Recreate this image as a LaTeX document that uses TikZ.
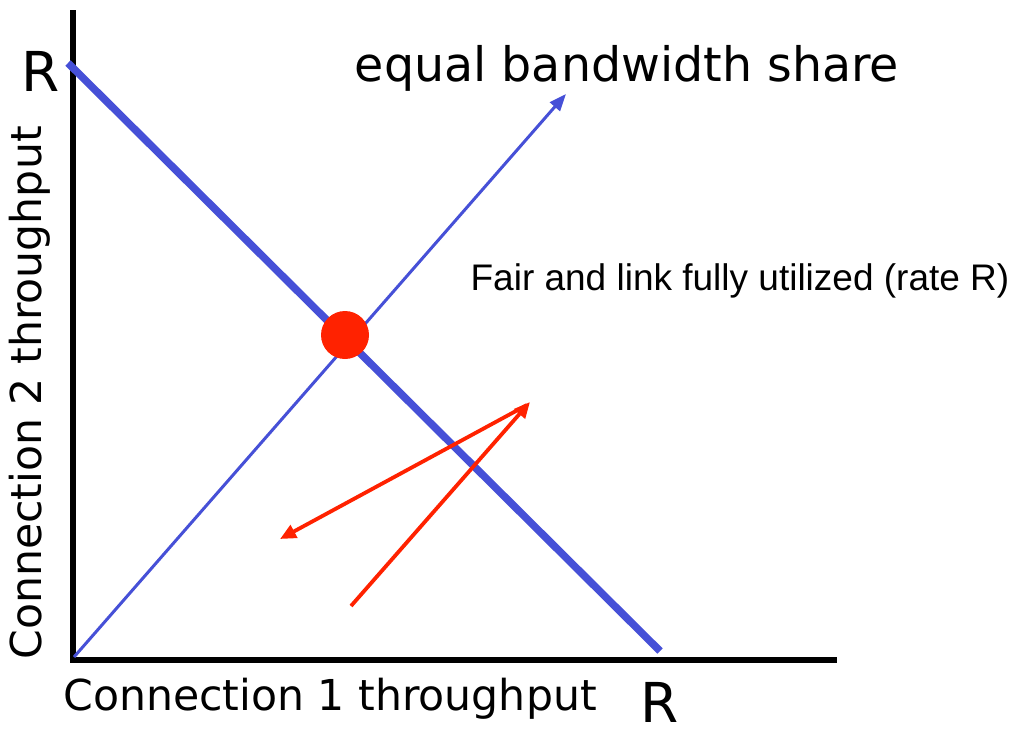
\documentclass[tikz,border=0pt]{standalone}
\usepackage{fontspec}
\setmainfont{DejaVu Sans}
\newfontfamily\arialfont{Liberation Sans}
\usetikzlibrary{arrows.meta}
\definecolor{lineblue}{RGB}{70,80,215}
\definecolor{dotred}{RGB}{255,34,0}
\tikzset{
  axisline/.style={line width=6pt, black},
  limitline/.style={line width=7.5pt, lineblue},
  fairline/.style={line width=3pt, lineblue, -{Triangle[length=17pt,width=13pt]}},
  redarrow/.style={line width=3.8pt, dotred, -{Triangle[length=16pt,width=14pt]}},
  bigtext/.style={inner sep=0pt, anchor=center},
}
\begin{document}
\begin{tikzpicture}[x=1pt,y=-1pt]
\useasboundingbox[fill=white] (0,0) rectangle (1016,728);
% axes
\coordinate (ytop) at (73,10);
\coordinate (origin) at (73,660);
\coordinate (xend) at (837,660);
\draw[axisline] (ytop) -- (73,663);
\draw[axisline] (70,660) -- (xend);
% capacity line
\coordinate (rtop) at (68,63);
\coordinate (rright) at (660,651);
\draw[limitline] (rtop) -- (rright);
% equal share line
\coordinate (eqstart) at (74,657);
\coordinate (eqend) at (566,94);
\draw[fairline] (eqstart) -- (eqend);
% red arrows
\coordinate (a1) at (351,606);
\coordinate (a2) at (530,402);
\coordinate (a3) at (280,539);
\draw[redarrow] (a1) -- (a2);
\draw[redarrow] (527,405) -- (a3);
% optimum dot
\node[circle, fill=dotred, minimum size=48pt, inner sep=0pt] (dot) at (345,335) {};
% texts
\node[bigtext, font=\fontsize{55}{60}\selectfont] (rlabel) at (41,71) {R};
\node[bigtext, font=\fontsize{47.5}{52}\selectfont] (eqlabel) at (627,68) {equal bandwidth share};
\node[bigtext, font=\arialfont\fontsize{37}{40}\selectfont] (fairlabel) at (740,281) {Fair and link fully utilized (rate R)};
\node[bigtext, rotate=90, font=\fontsize{42.6}{46}\selectfont] (ylabel) at (30,393) {Connection 2 throughput};
\node[bigtext, font=\fontsize{42.6}{46}\selectfont] (xlabel) at (330,699) {Connection 1 throughput};
\node[bigtext, font=\fontsize{55}{60}\selectfont, anchor=north] (xr) at (660,682) {R};
\end{tikzpicture}
\end{document}
